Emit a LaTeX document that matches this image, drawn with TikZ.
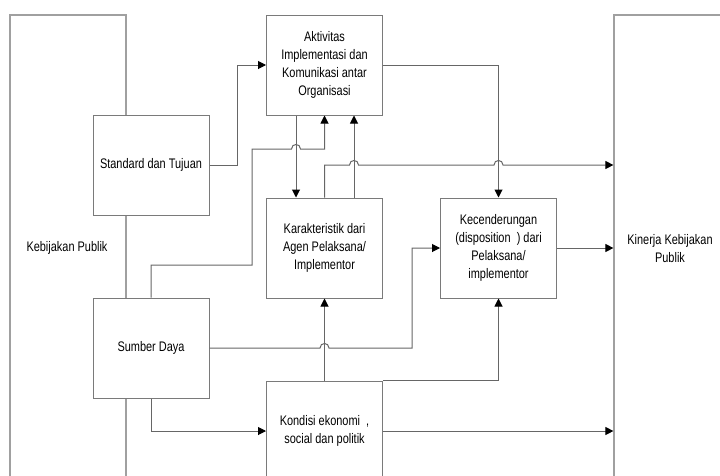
\documentclass[tikz,border=0pt]{standalone}
\usepackage{fontspec}
\setmainfont{Liberation Sans}[FakeStretch=0.79]
\usetikzlibrary{arrows.meta,calc}
\definecolor{framegray}{HTML}{A0A0A0}
\definecolor{boxgray}{HTML}{7A7A7A}
\definecolor{linegray}{HTML}{666666}
% a small bridge where one line jumps over another
\newcommand\hump[2]{-- ({#1-4.5},#2) .. controls ({#1-4.5},{#2-6}) and ({#1+4.5},{#2-6}) .. ({#1+4.5},#2)}
\begin{document}
\begin{tikzpicture}[x=0.75pt,y=-0.75pt,
  txt/.style={align=center,font=\fontsize{10.4}{13.6}\selectfont,text=black},
  frame/.style={draw=framegray,line width=0.9pt,fill=white},
  box/.style={txt,draw=boxgray,line width=0.75pt,fill=white,
    minimum width=87pt,minimum height=75pt,inner sep=2pt},
  conn/.style={draw=linegray,line width=0.75pt},
  arr/.style={conn,-{Triangle[length=6pt,width=6pt,color=black]}}]
\useasboundingbox (0,0) rectangle (720,475);
\clip (0,0) rectangle (720,475);

% outer columns
\node[frame,minimum width=87pt,minimum height=367.5pt] (kp) at (68,260) {};
\node[txt] (kpt) at (67,248) {Kebijakan Publik};
\node[frame,minimum width=94.5pt,minimum height=367.5pt] (kk) at (677,260) {};
\node[txt] (kkt) at (670,248.5) {Kinerja Kebijakan\\Publik};

% inner blocks
\node[box] (at) at (324.5,65) {Aktivitas\\Implementasi dan\\Komunikasi antar\\Organisasi};
\node[box] (st) at (151,165) {Standard dan Tujuan};
\node[box] (ka) at (324.5,248) {Karakteristik dari\\Agen Pelaksana/\\Implementor};
\node[box] (ke) at (498.5,248) {Kecenderungan\\(disposition~~) dari\\Pelaksana/\\implementor};
\node[box] (sd) at (151,348) {Sumber Daya};
\node[box] (ko) at (324.5,431) {Kondisi ekonomi~~,\\social dan politik};

% helper columns and rows
\coordinate (xa) at (296,0);
\coordinate (xc) at (354,0);
\coordinate (r165) at (0,165);

% connectors
\draw[arr] (st.east) -- (237,165) |- (at.west);
\draw[arr] (at.east) -| (ke.north);
\draw[arr] (at.south -| xa) -- (ka.north -| xa);
\draw[arr] (ka.north -| xc) -- (at.south -| xc);
\draw[arr] (ka.north) -- (324.5,165) \hump{354}{165} \hump{498.5}{165} -- (kk.west |- r165);
\draw[arr] (sd.north) -- (151,265) -- (252,265) -- (252,149) \hump{296}{149} -- (324.5,149) -- (at.south);
\draw[arr] (sd.east) \hump{324.5}{348} -- (412,348) -- (412,248) -- (ke.west);
\draw[arr] (sd.south) |- (ko.west);
\draw[arr] (ko.north) -- (ka.south);
\draw[arr] (ko.north east) -| (ke.south);
\draw[arr] (ke.east) -- (kk.west |- ke.east);
\draw[arr] (ko.east) -- (kk.west |- ko.east);
\end{tikzpicture}
\end{document}
